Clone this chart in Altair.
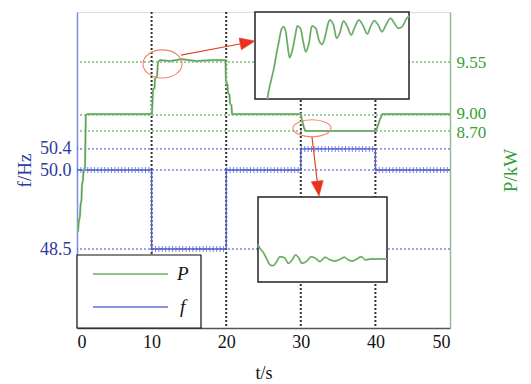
import altair as alt
import pandas as pd

# ---------------- data ----------------
T_DOMAIN = [0, 50]
X_TICKS = [0, 10, 20, 30, 40, 50]
T_MARKS = [10, 20, 30, 40]

F_DOMAIN = [47, 53]
F_TICKS = [48.5, 50.0, 50.4]
F_T = [0, 10, 20, 30, 40, 50]
F_V = [50.0, 48.5, 50.0, 50.4, 50.0, 50.0]
F_SEG_START = [0, 10, 20, 30, 40]
F_SEG_END = [10, 20, 30, 40, 50]
F_SEG_V = [50.0, 48.5, 50.0, 50.4, 50.0]

P_TICKS = [8.70, 9.00, 9.55]
P_DOMAIN = [5.0, 9.0, 9.55, 10.07]
P_T = [0.13, 0.23, 0.40, 0.47, 0.60, 0.67, 0.80, 0.87, 1.07, 1.18, 1.41, 10.0,
       10.05, 10.19, 10.39, 10.46, 10.72, 10.86, 11.13, 12.5, 14.0, 16.0, 18.0,
       19.9, 19.97, 20.17, 20.24, 20.44, 20.51, 20.71, 20.78, 21.0, 30.0, 30.16,
       30.43, 30.63, 40.0, 40.08, 40.35, 40.62, 40.95, 50.0]
P_V = [6.80, 6.99, 7.10, 7.31, 7.40, 7.69, 7.78, 7.97, 8.00, 9.00, 9.01, 9.01,
       9.01, 9.26, 9.28, 9.38, 9.40, 9.55, 9.57, 9.56, 9.58, 9.56, 9.57,
       9.57, 9.34, 9.32, 9.23, 9.21, 9.12, 9.10, 9.01, 9.01, 9.01, 8.91,
       8.76, 8.70, 8.70, 8.70, 8.81, 8.92, 9.01, 9.01]

# inset 1 (zoom of the rise after t = 10 s)
IN1_BOX = {"t0": 10.4, "t1": 12.4, "p0": 9.20, "p1": 9.60}
IN1_T = [10.56, 10.58, 10.61, 10.65, 10.68, 10.71, 10.74, 10.77, 10.80, 10.82,
         10.85, 10.88, 10.92, 10.95, 10.99, 11.03, 11.06, 11.10, 11.14, 11.19,
         11.23, 11.27, 11.31, 11.35, 11.37, 11.42, 11.46, 11.50, 11.55, 11.60,
         11.65, 11.69, 11.75, 11.80, 11.86, 11.90, 11.95, 12.00, 12.05, 12.10,
         12.16, 12.21, 12.26, 12.31, 12.37, 12.40]
IN1_P = [9.200, 9.241, 9.287, 9.349, 9.410, 9.463, 9.517, 9.532, 9.509, 9.456,
         9.390, 9.417, 9.486, 9.536, 9.525, 9.456, 9.417, 9.456, 9.536, 9.525,
         9.471, 9.451, 9.486, 9.548, 9.563, 9.540, 9.479, 9.502, 9.559, 9.532,
         9.494, 9.525, 9.563, 9.540, 9.499, 9.532, 9.560, 9.540, 9.509, 9.540,
         9.571, 9.548, 9.525, 9.532, 9.571, 9.582]

# inset 2 (zoom of the drop after t = 30 s)
IN2_BOX = {"t0": 30.0, "t1": 32.0, "p0": 8.62, "p1": 8.92}
IN2_T = [30.00, 30.03, 30.08, 30.13, 30.19, 30.24, 30.29, 30.34, 30.41, 30.47,
         30.53, 30.58, 30.63, 30.68, 30.76, 30.82, 30.89, 30.96, 31.04, 31.12,
         31.19, 31.27, 31.34, 31.40, 31.46, 31.53, 31.60, 31.67, 31.74, 31.81,
         32.00]
IN2_P = [8.753, 8.739, 8.725, 8.704, 8.680, 8.678, 8.692, 8.709, 8.706, 8.686,
         8.698, 8.715, 8.706, 8.686, 8.694, 8.709, 8.704, 8.692, 8.707, 8.698,
         8.694, 8.700, 8.707, 8.698, 8.694, 8.701, 8.709, 8.698, 8.701, 8.701,
         8.701]

# annotations (ellipses and arrows, in t / P units)
ELL1 = {"t": 11.46, "P": 9.53}
ELL2 = {"t": 31.5, "P": 8.75}
ARR1_T = [13.94, 22.87]
ARR1_P = [9.622, 9.753]
ARR2_T = [31.50, 32.32]
ARR2_P = [8.587, 7.618]
HEAD_T = [22.87, 32.32]
HEAD_P = [9.753, 7.618]
HEAD_ANGLE = [349.3, 83.1]

LEG_LABELS = ["P", "f"]

# ---------------- styling ----------------
W, H = 373, 316
SERIF = "Liberation Serif"
BLUE_LINE = "#4f5fd2"
BLUE_TXT = "#2c3c9c"
GREEN_TXT = "#35a035"
GREEN_DOT = "#3e9a3e"
P_LIGHT = "#9ccb97"
P_DARK = "#3f8c3f"


def xs():
    return alt.Scale(domain=T_DOMAIN, nice=False, zero=False)


def fs():
    return alt.Scale(domain=F_DOMAIN, nice=False, zero=False)


def ps():
    return alt.Scale(domain=P_DOMAIN, range=[316, 103, 50, 0], nice=False, zero=False)


x_axis = alt.Axis(values=X_TICKS, title="t/s", grid=False, ticks=False,
                  domainColor="#555555", domainWidth=1.5,
                  labelFont=SERIF, labelFontSize=18, labelColor="#111111",
                  labelPadding=5, titleFont=SERIF, titleFontSize=18,
                  titleFontWeight="normal", titleColor="#111111", titlePadding=13)
f_axis = alt.Axis(values=F_TICKS, format=".1f", title="f/Hz", orient="left",
                  grid=False, ticks=False, domainColor="#7d8ce6", domainWidth=1.5,
                  labelFont=SERIF, labelFontSize=18, labelColor=BLUE_TXT,
                  labelPadding=6, labelOverlap=False,
                  titleFont=SERIF, titleFontSize=19,
                  titleFontWeight="normal", titleColor=BLUE_TXT,
                  titleAngle=270, titleX=-53, titleY=158,
                  titleAlign="center", titleBaseline="middle")
p_axis = alt.Axis(values=P_TICKS, format=".2f", title="P/kW", orient="right",
                  grid=False, ticks=False, domainColor="#93bd93", domainWidth=1.5,
                  labelFont=SERIF, labelFontSize=17, labelColor=GREEN_TXT,
                  labelPadding=6, labelOverlap=False,
                  labelOffset={"condition": [{"test": "datum.value == 9", "value": -2},
                                             {"test": "datum.value == 8.7", "value": 2}],
                               "value": 0},
                  titleFont=SERIF, titleFontSize=19,
                  titleFontWeight="normal", titleColor=GREEN_TXT,
                  titleAngle=270, titleX=60, titleY=158,
                  titleAlign="center", titleBaseline="middle")

layers = []

# ---------------- frequency ----------------
layers.append(alt.Chart(pd.DataFrame({"f": F_TICKS})).mark_rule(
    color="#3b4cc4", strokeDash=[2, 2], strokeWidth=1
).encode(y=alt.Y("f:Q", scale=fs(), axis=f_axis)))

layers.append(alt.Chart(pd.DataFrame({"t": T_MARKS})).mark_rule(
    color="#333333", strokeDash=[2, 2], strokeWidth=2
).encode(x=alt.X("t:Q", scale=xs(), axis=x_axis)))

# ripple band drawn as a thick dashed stroke along each constant segment
seg_rows = []
for k, (a, b, v) in enumerate(zip(F_SEG_START, F_SEG_END, F_SEG_V)):
    seg_rows.append({"seg": k, "t": a, "f": v, "i": 0})
    seg_rows.append({"seg": k, "t": b, "f": v, "i": 1})
layers.append(alt.Chart(pd.DataFrame(seg_rows)).mark_line(
    color="#6473d6", strokeDash=[1, 2.4], strokeWidth=6, opacity=0.85,
    strokeCap="butt"
).encode(x=alt.X("t:Q", scale=xs(), axis=None),
         y=alt.Y("f:Q", scale=fs(), axis=None),
         detail="seg:N", order="i:Q"))

layers.append(alt.Chart(pd.DataFrame({"t": F_T, "f": F_V})).mark_line(
    interpolate="step-after", color=BLUE_LINE, strokeWidth=1.3
).encode(x=alt.X("t:Q", scale=xs(), axis=None),
         y=alt.Y("f:Q", scale=fs(), axis=None)))

# ---------------- power ----------------
layers.append(alt.Chart(pd.DataFrame({"P": P_TICKS})).mark_rule(
    color=GREEN_DOT, strokeDash=[2, 2], strokeWidth=1
).encode(y=alt.Y("P:Q", scale=ps(), axis=p_axis)))

p_df = pd.DataFrame({"t": P_T, "P": P_V, "i": range(len(P_T))})
for col, sw in ((P_LIGHT, 2.2), (P_DARK, 0.8)):
    layers.append(alt.Chart(p_df).mark_line(color=col, strokeWidth=sw).encode(
        x=alt.X("t:Q", scale=xs(), axis=None),
        y=alt.Y("P:Q", scale=ps(), axis=None), order="i:Q"))


# ---------------- insets ----------------
def inset(box, ts, pvals, xr, yr):
    def isx():
        return alt.Scale(domain=[box["t0"], box["t1"]], range=xr, nice=False, zero=False)

    def isy():
        return alt.Scale(domain=[box["p0"], box["p1"]], range=yr, nice=False, zero=False)

    out = [alt.Chart(pd.DataFrame([box])).mark_rect(
        fill="white", stroke="#222222", strokeWidth=1.5
    ).encode(x=alt.X("t0:Q", scale=isx(), axis=None), x2="t1:Q",
             y=alt.Y("p0:Q", scale=isy(), axis=None), y2="p1:Q")]
    df = pd.DataFrame({"t": ts, "P": pvals, "i": range(len(ts))})
    for col, sw in ((P_LIGHT, 2.0), (P_DARK, 0.7)):
        out.append(alt.Chart(df).mark_line(
            color=col, strokeWidth=sw, interpolate="monotone"
        ).encode(x=alt.X("t:Q", scale=isx(), axis=None),
                 y=alt.Y("P:Q", scale=isy(), axis=None), order="i:Q"))
    return out


layers += inset(IN1_BOX, IN1_T, IN1_P, [178, 332], [87, 0])
layers += inset(IN2_BOX, IN2_T, IN2_P, [181, 310], [270, 185])


# ---------------- annotations ----------------
def ellipse_path(r):
    k = 0.5523
    return (f"M1,0C1,{k*r:.3f} {k},{r} 0,{r}C{-k},{r} -1,{k*r:.3f} -1,0"
            f"C-1,{-k*r:.3f} {-k},{-r} 0,{-r}C{k},{-r} 1,{-k*r:.3f} 1,0Z")


for ell, ratio, wpx in ((ELL1, 0.72, 39), (ELL2, 0.45, 38)):
    layers.append(alt.Chart(pd.DataFrame([ell])).mark_point(
        shape=ellipse_path(ratio), size=wpx * wpx, filled=False,
        stroke="#f28468", strokeWidth=1.1, opacity=1
    ).encode(x=alt.X("t:Q", scale=xs(), axis=None),
             y=alt.Y("P:Q", scale=ps(), axis=None)))

arr_df = pd.DataFrame({
    "t": ARR1_T + ARR2_T, "P": ARR1_P + ARR2_P,
    "a": ["a1", "a1", "a2", "a2"], "i": [0, 1, 0, 1]})
layers.append(alt.Chart(arr_df).mark_line(color="#e8402a", strokeWidth=1.2).encode(
    x=alt.X("t:Q", scale=xs(), axis=None),
    y=alt.Y("P:Q", scale=ps(), axis=None),
    detail="a:N", order="i:Q"))
layers.append(alt.Chart(pd.DataFrame({"t": HEAD_T, "P": HEAD_P, "ang": HEAD_ANGLE})).mark_point(
    shape="M1,0L-1,-0.8L-1,0.8Z", size=225, filled=True,
    fill="#e8321e", stroke="#e8321e", strokeWidth=0.5, opacity=1
).encode(x=alt.X("t:Q", scale=xs(), axis=None),
         y=alt.Y("P:Q", scale=ps(), axis=None),
         angle=alt.Angle("ang:Q", scale=None)))

# ---------------- legend ----------------
one = pd.DataFrame({"k": [0]})
layers.append(alt.Chart(one).mark_rect(fill="white", stroke="#111111", strokeWidth=1.2).encode(
    x=alt.value(0), x2=alt.value(124), y=alt.value(243), y2=alt.value(316)))
layers.append(alt.Chart(one).mark_rule(color="#6fae6a", strokeWidth=1.3).encode(
    x=alt.value(16), x2=alt.value(91), y=alt.value(262)))
layers.append(alt.Chart(one).mark_rule(color="#6272d8", strokeWidth=1.3).encode(
    x=alt.value(16), x2=alt.value(91), y=alt.value(295)))
layers.append(alt.Chart(one).mark_text(
    text=LEG_LABELS[0], font=SERIF, fontStyle="italic", fontSize=19,
    align="left", baseline="middle", color="#111111"
).encode(x=alt.value(100), y=alt.value(262)))
layers.append(alt.Chart(one).mark_text(
    text=LEG_LABELS[1], font=SERIF, fontStyle="italic", fontSize=19,
    align="left", baseline="middle", color="#111111"
).encode(x=alt.value(103), y=alt.value(295)))

chart = alt.layer(*layers).resolve_scale(
    x="independent", y="independent"
).properties(
    width=W, height=H, autosize="none",
    padding={"left": 69, "top": 4, "right": 70, "bottom": 56}
).configure_view(
    stroke="#555555", strokeWidth=1.5
).configure_axis(
    labelFont=SERIF, titleFont=SERIF
).configure(font=SERIF)

chart.save("out.html", embed_options={"renderer": "svg", "actions": False})
